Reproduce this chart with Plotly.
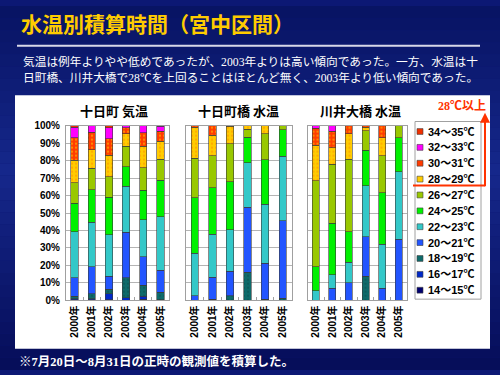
import plotly.graph_objects as go

# ---------------- data ----------------
years = ["2000年", "2001年", "2002年", "2003年", "2004年", "2005年"]
bands = ["14～15℃", "16～17℃", "18～19℃", "20～21℃", "22～23℃", "24～25℃",
         "26～27℃", "28～29℃", "30～31℃", "32～33℃", "34～35℃"]
band_colors = ["#000070", "#0028C8", "#0E6A6A", "#2255FF", "#33C8C8", "#00F000",
               "#99C800", "#FFCC00", "#FF3B00", "#FF00FF", "#F03000"]
panel_titles = ["十日町 気温", "十日町橋 水温", "川井大橋 水温"]

# percent of hours per band (rows: bands 14-15 ... 34-35, cols: 2000..2005)
tokamachi_air = [
    [0.5, 0.5, 0.3, 0.0, 0.6, 0.0],
    [0.5, 0.5, 3.4, 1.5, 1.8, 0.3],
    [1.5, 2.7, 2.8, 11.5, 6.3, 4.3],
    [10.5, 15.7, 7.4, 25.9, 16.3, 12.8],
    [26.4, 25.4, 23.7, 26.5, 21.3, 30.4],
    [16.1, 18.5, 21.3, 11.1, 16.7, 21.1],
    [11.7, 12.3, 12.0, 11.8, 12.9, 12.0],
    [13.0, 10.5, 12.1, 7.1, 12.4, 10.2],
    [12.9, 10.2, 9.6, 3.5, 7.6, 5.6],
    [5.9, 3.7, 6.1, 1.1, 4.1, 3.1],
    [1.0, 0.0, 1.3, 0.0, 0.0, 0.2],
]
tokamachi_bridge_water = [
    [0, 0, 0, 0, 0, 0],
    [0, 0.7, 0, 0, 0, 0],
    [0, 0, 2.8, 16.1, 0.6, 1.1],
    [2.8, 12.6, 13.9, 37.2, 20.7, 44.6],
    [24.1, 24.7, 23.7, 25.4, 33.7, 36.7],
    [31.8, 26.4, 27.6, 14.8, 25.6, 15.4],
    [22.8, 18.4, 21.8, 4.6, 14.8, 2.2],
    [17.6, 11.6, 9.8, 1.9, 4.6, 0],
    [0.9, 5.6, 0.4, 0, 0, 0],
    [0, 0, 0, 0, 0, 0],
    [0, 0, 0, 0, 0, 0],
]
kawai_bridge_water = [
    [0, 0, 0, 0, 0, 0],
    [0, 0, 0, 0, 0, 0],
    [0, 0, 0, 13.7, 0, 0],
    [0, 6.9, 10.0, 22.8, 6.9, 35.0],
    [5.6, 7.7, 11.7, 29.2, 25.3, 38.5],
    [13.7, 29.7, 17.6, 20.2, 29.3, 19.5],
    [49.2, 33.5, 41.6, 11.3, 21.3, 7.0],
    [20.4, 9.6, 14.5, 1.9, 10.2, 0],
    [9.6, 9.3, 4.6, 0.9, 7.0, 0],
    [1.5, 3.3, 0, 0, 0, 0],
    [0, 0, 0, 0, 0, 0],
]
panels = [tokamachi_air, tokamachi_bridge_water, kawai_bridge_water]
y_ticks = [0, 10, 20, 30, 40, 50, 60, 70, 80, 90, 100]

title_text = "水温別積算時間（宮中区間）"
desc_lines = ["気温は例年よりやや低めであったが、2003年よりは高い傾向であった。一方、水温は十",
              "日町橋、川井大橋で28℃を上回ることはほとんど無く、2003年より低い傾向であった。"]
footnote = "※7月20日～8月31日の正時の観測値を積算した。"
above28 = "28℃以上"

# ---------------- layout helpers ----------------
W, H = 500, 375
def X(px):
    return px / W
def Y(py):
    return 1 - py / H

JP = "Noto Sans CJK JP"
SERIF_JP = "Liberation Serif, Noto Sans CJK JP"
ARIAL_JP = "Liberation Sans, Arial, Noto Sans CJK JP"

patterns = {
    "28～29℃": dict(shape=".", fgcolor="#FF8800", size=4, solidity=0.25),
    "30～31℃": dict(shape=".", fgcolor="#FFDD00", size=4, solidity=0.25),
    "18～19℃": dict(shape=".", fgcolor="#0A4444", size=4, solidity=0.2),
}

fig = go.Figure()
axis_ids = ["", "2", "3"]
for p, data in enumerate(panels):
    for b, band in enumerate(bands):
        marker = dict(color=band_colors[b], line=dict(color="#3a3a3a", width=0.6))
        if band in patterns:
            marker["pattern"] = patterns[band]
        fig.add_trace(go.Bar(
            x=years, y=data[b], name=band, showlegend=False,
            xaxis="x" + axis_ids[p], yaxis="y" + axis_ids[p],
            marker=marker,
        ))

x_domains = [[X(66), X(169)], [X(186), X(291.5)], [X(307.5), X(407)]]
y_domain = [Y(303.3), Y(123.3)]

layout = dict(
    width=W, height=H, margin=dict(l=0, r=0, t=0, b=0),
    paper_bgcolor="#0c1874", plot_bgcolor="white",
    barmode="stack", bargap=0.58, showlegend=False,
    font=dict(family=ARIAL_JP, color="black"),
)
for p in range(3):
    xa = dict(domain=x_domains[p], anchor="y" + axis_ids[p], type="category",
              tickangle=-90, tickfont=dict(size=10, family=ARIAL_JP, color="black", weight="bold"),
              showline=True, linecolor="#a0a0a0", linewidth=1, mirror=True,
              ticks="inside", tickson="boundaries", ticklen=3, tickcolor="#a0a0a0",
              showgrid=False)
    ya = dict(domain=y_domain, anchor="x" + axis_ids[p], range=[0, 100],
              tickvals=y_ticks, ticktext=[f"{v}%" for v in y_ticks],
              showticklabels=(p == 0),
              tickfont=dict(size=10, family=ARIAL_JP, color="black", weight="bold"),
              showline=True, linecolor="#a0a0a0", linewidth=1, mirror=True,
              showgrid=True, gridcolor="#b4b4b4", gridwidth=1, zeroline=False,
              ticks="", ticklabelstandoff=3)
    layout["xaxis" + axis_ids[p]] = xa
    layout["yaxis" + axis_ids[p]] = ya
fig.update_layout(**layout)

shapes = []
# background gradient (slide look)
top_c = (8, 20, 100)
mid_c = (22, 40, 140)
bot_c = (6, 14, 90)
n = 30
for i in range(n):
    t = i / (n - 1)
    if t < 0.45:
        u = t / 0.45
        c = tuple(int(top_c[k] + (mid_c[k] - top_c[k]) * u) for k in range(3))
    else:
        u = (t - 0.45) / 0.55
        c = tuple(int(mid_c[k] + (bot_c[k] - mid_c[k]) * u) for k in range(3))
    shapes.append(dict(type="rect", xref="paper", yref="paper", layer="below",
                       x0=0, x1=1, y0=1 - (i + 1) / n, y1=1 - i / n,
                       fillcolor=f"rgb{c}", line=dict(width=0)))
# white content panel
shapes.append(dict(type="rect", xref="paper", yref="paper", layer="below",
                   x0=X(15), x1=X(490), y0=Y(353), y1=Y(92),
                   fillcolor="white", line=dict(width=0)))
# title underline
shapes.append(dict(type="line", xref="paper", yref="paper",
                   x0=X(17), x1=X(480), y0=Y(41), y1=Y(41),
                   line=dict(color="#d8d8e8", width=2)))
# legend box
shapes.append(dict(type="rect", xref="paper", yref="paper",
                   x0=X(415), x1=X(481), y0=Y(302), y1=Y(119),
                   fillcolor="white", line=dict(color="#a0a0a0", width=1)))
# legend swatches
annotations = []
for i, b in enumerate(reversed(range(len(bands)))):
    cy = 129.3 + i * 16.35
    shapes.append(dict(type="rect", xref="paper", yref="paper",
                       x0=X(417), x1=X(423), y0=Y(cy + 3), y1=Y(cy - 3),
                       fillcolor=band_colors[b], line=dict(color="#404040", width=0.6)))
    annotations.append(dict(text=bands[b], xref="paper", yref="paper",
                            x=X(426), y=Y(cy), xanchor="left", yanchor="middle",
                            showarrow=False,
                            font=dict(size=11, family=ARIAL_JP, color="black", weight="bold")))
# red bracket for >=28
shapes.append(dict(type="line", xref="paper", yref="paper",
                   x0=X(413), x1=X(485), y0=Y(185), y1=Y(185),
                   line=dict(color="#FF3300", width=2)))
annotations.append(dict(text="", xref="paper", yref="paper", x=X(485), y=Y(110),
                        ax=0, ay=75, showarrow=True, arrowhead=2, arrowsize=1,
                        arrowwidth=2, arrowcolor="#FF3300"))
annotations.append(dict(text=above28, xref="paper", yref="paper", x=X(488), y=Y(103),
                        xanchor="right", yanchor="middle", showarrow=False,
                        font=dict(size=12, family=SERIF_JP, color="#FF3300", weight="bold")))

# title, description, footnote
annotations.append(dict(text=title_text, xref="paper", yref="paper", x=X(19), y=Y(18),
                        xanchor="left", yanchor="middle", showarrow=False,
                        font=dict(size=21, family=JP, color="#FFCC00", weight="bold")))
for i, line in enumerate(desc_lines):
    annotations.append(dict(text=line, xref="paper", yref="paper", x=X(21), y=Y(58 + i * 16),
                            xanchor="left", yanchor="middle", showarrow=False,
                            font=dict(size=11.7, family=SERIF_JP, color="white")))
annotations.append(dict(text=footnote, xref="paper", yref="paper", x=X(17), y=Y(366),
                        xanchor="left", yanchor="middle", showarrow=False,
                        font=dict(size=12.5, family=SERIF_JP, color="white", weight="bold")))
# panel titles
title_centers = [114, 238, 360]
for p in range(3):
    annotations.append(dict(text=panel_titles[p], xref="paper", yref="paper",
                            x=X(title_centers[p]), y=Y(107.5), xanchor="center", yanchor="middle",
                            showarrow=False,
                            font=dict(size=13, family=JP, color="black", weight="bold")))

fig.update_layout(shapes=shapes, annotations=annotations)
fig.write_html("out.html", config={"displayModeBar": False},
               post_script="document.body.style.margin='0px';")
